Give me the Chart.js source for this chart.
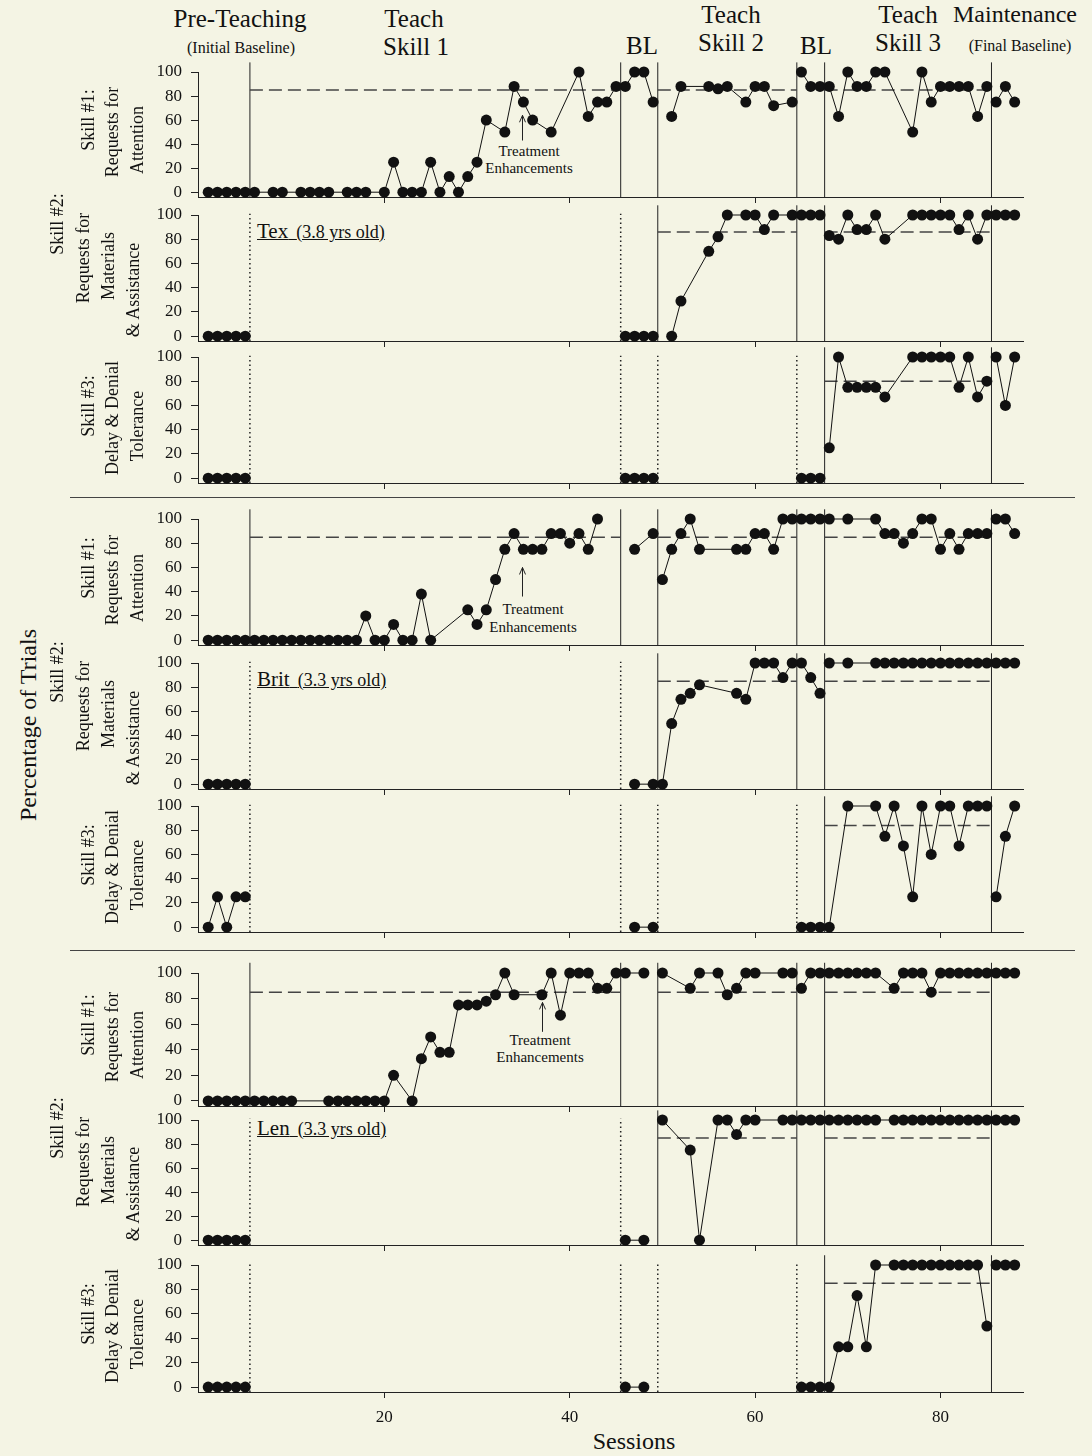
<!DOCTYPE html>
<html lang="en">
<head>
<meta charset="UTF-8">
<title>Percentage of Trials by Session</title>
<script src="https://cdn.jsdelivr.net/npm/chart.js"></script>
<style>
    body { margin: 0; background: #f4f4e4; font-family: 'Liberation Serif', 'Times New Roman', serif; color: #111; }
    #page { position: relative; width: 1092px; height: 1456px; overflow: hidden; }
    canvas { position: absolute; left: 0; }
    .lbl { position: absolute; white-space: nowrap; line-height: 1; }
    .c { transform: translate(-50%, -50%); }
    .rot { transform: translate(-50%, -50%) rotate(-90deg); }
    .sep { position: absolute; height: 0; border-top: 1px solid #444; }
    .hd { font-size: 25px; }
    .sub { font-size: 16px; }
    .tag { text-decoration: underline; }
    .note { font-size: 15px; }
</style>
</head>
<body>
<div id="page">
    <!-- phase headers -->
    <div class="lbl c hd" style="left:240px;top:18px">Pre-Teaching</div>
    <div class="lbl c sub" style="left:241px;top:48px">(Initial Baseline)</div>
    <div class="lbl c hd" style="left:414px;top:18px">Teach</div>
    <div class="lbl c hd" style="left:416px;top:46px">Skill 1</div>
    <div class="lbl c hd" style="left:642px;top:45px">BL</div>
    <div class="lbl c hd" style="left:731px;top:14px">Teach</div>
    <div class="lbl c hd" style="left:731px;top:42px">Skill 2</div>
    <div class="lbl c hd" style="left:816px;top:45px">BL</div>
    <div class="lbl c hd" style="left:908px;top:14px">Teach</div>
    <div class="lbl c hd" style="left:908px;top:42px">Skill 3</div>
    <div class="lbl c" style="left:1015px;top:14px;font-size:24px">Maintenance</div>
    <div class="lbl c sub" style="left:1020px;top:46px">(Final Baseline)</div>

    <div class="lbl rot" style="left:28px;top:725px;font-size:24px">Percentage of Trials</div>
    <div class="lbl c" style="left:634px;top:1441px;font-size:24px">Sessions</div>

    <div class="sep" style="left:70px;width:1005px;top:497px"></div>
    <div class="sep" style="left:70px;width:1005px;top:950px"></div>

    <!-- participant tags -->
    <div class="lbl tag" style="left:257px;top:221px"><span style="font-size:21px">Tex</span>&nbsp; <span style="font-size:18px">(3.8 yrs old)</span></div>
    <div class="lbl tag" style="left:257px;top:669px"><span style="font-size:21px">Brit</span>&nbsp; <span style="font-size:18px">(3.3 yrs old)</span></div>
    <div class="lbl tag" style="left:257px;top:1118px"><span style="font-size:21px">Len</span>&nbsp; <span style="font-size:18px">(3.3 yrs old)</span></div>

    <!-- treatment enhancement notes -->
    <div class="lbl c note" style="left:529px;top:151px">Treatment</div>
    <div class="lbl c note" style="left:529px;top:168px">Enhancements</div>
    <div class="lbl c note" style="left:533px;top:609px">Treatment</div>
    <div class="lbl c note" style="left:533px;top:627px">Enhancements</div>
    <div class="lbl c note" style="left:540px;top:1040px">Treatment</div>
    <div class="lbl c note" style="left:540px;top:1057px">Enhancements</div>
</div>

<script>
    // phase change lines (between sessions) and axis ticks
    const PHASE_CHANGES = [5.5, 45.5, 49.5, 64.5, 67.5, 85.5];
    const TEACH_PHASES = [[5.5, 45.5], [49.5, 64.5], [67.5, 85.5]];
    const X_TICKS = [20, 40, 60, 80];
    const Y_TICKS = [0, 20, 40, 60, 80, 100];

    // Tex
    const texSkill1Sessions = [1,2,3,4,5,6,8,9,11,12,13,14,16,17,18,20,21,22,23,24,25,26,27,28,29,30,31,33,34,35,36,38,41,42,43,44,45,46,47,48,49,51,52,55,56,57,59,60,61,62,64,65,66,67,68,69,70,71,72,73,74,77,78,79,80,81,82,83,84,85,86,87,88];
    const texSkill1Values   = [0,0,0,0,0,0,0,0,0,0,0,0,0,0,0,0,25,0,0,0,25,0,13,0,13,25,60,50,88,75,60,50,100,63,75,75,88,88,100,100,75,63,88,88,86,88,75,88,88,72,75,100,88,88,88,63,100,88,88,100,100,50,100,75,88,88,88,88,63,88,75,88,75];

    const texSkill2Sessions = [1,2,3,4,5,46,47,48,49,51,52,55,56,57,59,60,61,62,64,65,66,67,68,69,70,71,72,73,74,77,78,79,80,81,82,83,84,85,86,87,88];
    const texSkill2Values   = [0,0,0,0,0,0,0,0,0,0,29,70,82,100,100,100,88,100,100,100,100,100,83,80,100,88,88,100,80,100,100,100,100,100,88,100,80,100,100,100,100];

    const texSkill3Sessions = [1,2,3,4,5,46,47,48,49,65,66,67,68,69,70,71,72,73,74,77,78,79,80,81,82,83,84,85,86,87,88];
    const texSkill3Values   = [0,0,0,0,0,0,0,0,0,0,0,0,25,100,75,75,75,75,67,100,100,100,100,100,75,100,67,80,100,60,100];

    // Brit
    const britSkill1Sessions = [1,2,3,4,5,6,7,8,9,10,11,12,13,14,15,16,17,18,19,20,21,22,23,24,25,29,30,31,32,33,34,35,36,37,38,39,40,41,42,43,47,49,50,51,52,53,54,58,59,60,61,62,63,64,65,66,67,68,70,73,74,75,76,77,78,79,80,81,82,83,84,85,86,87,88];
    const britSkill1Values   = [0,0,0,0,0,0,0,0,0,0,0,0,0,0,0,0,0,20,0,0,13,0,0,38,0,25,13,25,50,75,88,75,75,75,88,88,80,88,75,100,75,88,50,75,88,100,75,75,75,88,88,75,100,100,100,100,100,100,100,100,88,88,80,88,100,100,75,88,75,88,88,88,100,100,88];

    const britSkill2Sessions = [1,2,3,4,5,47,49,50,51,52,53,54,58,59,60,61,62,63,64,65,66,67,68,70,73,74,75,76,77,78,79,80,81,82,83,84,85,86,87,88];
    const britSkill2Values   = [0,0,0,0,0,0,0,0,50,70,75,82,75,70,100,100,100,88,100,100,88,75,100,100,100,100,100,100,100,100,100,100,100,100,100,100,100,100,100,100];

    const britSkill3Sessions = [1,2,3,4,5,47,49,65,66,67,68,70,73,74,75,76,77,78,79,80,81,82,83,84,85,86,87,88];
    const britSkill3Values   = [0,25,0,25,25,0,0,0,0,0,0,100,100,75,100,67,25,100,60,100,100,67,100,100,100,25,75,100];

    // Len
    const lenSkill1Sessions = [1,2,3,4,5,6,7,8,9,10,14,15,16,17,18,19,20,21,23,24,25,26,27,28,29,30,31,32,33,34,37,38,39,40,41,42,43,44,45,46,48,50,53,54,56,57,58,59,60,63,64,65,66,67,68,69,70,71,72,73,75,76,77,78,79,80,81,82,83,84,85,86,87,88];
    const lenSkill1Values   = [0,0,0,0,0,0,0,0,0,0,0,0,0,0,0,0,0,20,0,33,50,38,38,75,75,75,78,83,100,83,83,100,67,100,100,100,88,88,100,100,100,100,88,100,100,83,88,100,100,100,100,88,100,100,100,100,100,100,100,100,88,100,100,100,85,100,100,100,100,100,100,100,100,100];

    const lenSkill2Sessions = [1,2,3,4,5,46,48,50,53,54,56,57,58,59,60,63,64,65,66,67,68,69,70,71,72,73,75,76,77,78,79,80,81,82,83,84,85,86,87,88];
    const lenSkill2Values   = [0,0,0,0,0,0,0,100,75,0,100,100,88,100,100,100,100,100,100,100,100,100,100,100,100,100,100,100,100,100,100,100,100,100,100,100,100,100,100,100];

    const lenSkill3Sessions = [1,2,3,4,5,46,48,65,66,67,68,69,70,71,72,73,75,76,77,78,79,80,81,82,83,84,85,86,87,88];
    const lenSkill3Values   = [0,0,0,0,0,0,0,0,0,0,0,33,33,75,33,100,100,100,100,100,100,100,100,100,100,100,50,100,100,100];

    const panels = [
        { sessions: texSkill1Sessions, values: texSkill1Values, skill: 1, criterion: 85, arrow: { x: 34.8, from: 43, to: 64 } },
        { sessions: texSkill2Sessions, values: texSkill2Values, skill: 2, criterion: 86 },
        { sessions: texSkill3Sessions, values: texSkill3Values, skill: 3, criterion: 80 },
        { sessions: britSkill1Sessions, values: britSkill1Values, skill: 1, criterion: 85, arrow: { x: 34.8, from: 36, to: 60 } },
        { sessions: britSkill2Sessions, values: britSkill2Values, skill: 2, criterion: 85 },
        { sessions: britSkill3Sessions, values: britSkill3Values, skill: 3, criterion: 84 },
        { sessions: lenSkill1Sessions, values: lenSkill1Values, skill: 1, criterion: 85, arrow: { x: 37, from: 54, to: 77 } },
        { sessions: lenSkill2Sessions, values: lenSkill2Values, skill: 2, criterion: 85 },
        { sessions: lenSkill3Sessions, values: lenSkill3Values, skill: 3, criterion: 85 }
    ];

    const skillLabels = {
        1: ['Skill #1:', 'Requests for', 'Attention'],
        2: ['Skill #2:', 'Requests for', 'Materials', '& Assistance'],
        3: ['Skill #3:', 'Delay & Denial', 'Tolerance']
    };

    // layout (pixel rows of the value 0 and 100 in each panel)
    const PANEL_Y0   = [192, 336, 478, 640, 784, 927, 1101, 1240, 1387];
    const PANEL_Y100 = [72, 215, 357, 519, 663, 806, 973, 1120, 1265];
    const LABEL_X = { 3: [88, 112, 137], 4: [57, 83, 108, 133] };
    const LABEL_SHIFT = { 3: [-12, 0, 8], 4: [-52, -18, -10, 14] };
    const Y_MIN = -4;
    const PAD_TOP = 16;
    const DOTTED_BEFORE = { 1: 0, 2: 2, 3: 4 };

    Chart.defaults.font.family = "'Liberation Serif', 'Times New Roman', serif";
    Chart.defaults.color = '#111';

    const arrowPlugin = {
        id: 'arrow',
        afterDatasetsDraw(chart, args, opts) {
            if (!opts || opts.x == null) return;
            const { ctx, scales: { x, y } } = chart;
            const px = Math.round(x.getPixelForValue(opts.x)) + 0.5;
            const y1 = y.getPixelForValue(opts.from);
            const y2 = y.getPixelForValue(opts.to);
            ctx.save();
            ctx.strokeStyle = '#222';
            ctx.lineWidth = 1;
            ctx.beginPath();
            ctx.moveTo(px, y1);
            ctx.lineTo(px, y2);
            ctx.moveTo(px - 3, y2 + 7);
            ctx.lineTo(px, y2);
            ctx.lineTo(px + 3, y2 + 7);
            ctx.stroke();
            ctx.restore();
        }
    };

    function phaseSegments(sessions, values) {
        const segs = [];
        sessions.forEach((s, i) => {
            const p = PHASE_CHANGES.filter(b => s > b).length;
            (segs[p] = segs[p] || []).push({ x: s, y: values[i] });
        });
        return segs.filter(Boolean);
    }

    const page = document.getElementById('page');

    panels.forEach((p, i) => {
        const isLast = i === panels.length - 1;
        const unit = (PANEL_Y0[i] - PANEL_Y100[i]) / 100;
        const areaH = (100 - Y_MIN) * unit;
        const xAxisH = isLast ? 40 : 12;
        const h = Math.round(PAD_TOP + areaH + xAxisH);

        const canvas = document.createElement('canvas');
        canvas.width = 1092;
        canvas.height = h;
        canvas.style.top = (PANEL_Y100[i] - PAD_TOP) + 'px';
        page.appendChild(canvas);

        // rotated skill label lines
        const lines = skillLabels[p.skill];
        const mid = (PANEL_Y0[i] + PANEL_Y100[i]) / 2;
        lines.forEach((t, k) => {
            const d = document.createElement('div');
            d.className = 'lbl rot';
            d.style.fontSize = '18px';
            d.style.left = LABEL_X[lines.length][k] + 'px';
            d.style.top = (mid + LABEL_SHIFT[lines.length][k]) + 'px';
            d.textContent = t;
            page.appendChild(d);
        });

        const datasets = [];
        phaseSegments(p.sessions, p.values).forEach(seg => {
            datasets.push({
                data: seg,
                borderColor: '#111',
                borderWidth: 1,
                pointRadius: 5.5,
                pointBackgroundColor: '#111',
                pointBorderWidth: 0,
                clip: false,
                order: 0
            });
        });

        PHASE_CHANGES.forEach((b, k) => {
            const dotted = k < DOTTED_BEFORE[p.skill];
            datasets.push({
                data: [{ x: b, y: Y_MIN }, { x: b, y: dotted ? 101 : 108 }],
                borderColor: '#222',
                borderWidth: dotted ? 1.5 : 1,
                borderDash: dotted ? [1.5, 3] : [],
                pointRadius: 0,
                clip: false,
                order: 2
            });
        });

        TEACH_PHASES.slice(p.skill - 1).forEach(([a, b]) => {
            datasets.push({
                data: [{ x: a, y: p.criterion }, { x: b, y: p.criterion }],
                borderColor: '#444',
                borderWidth: 1.5,
                borderDash: [13, 6],
                pointRadius: 0,
                clip: false,
                order: 1
            });
        });

        new Chart(canvas.getContext('2d'), {
            type: 'line',
            data: { datasets },
            plugins: p.arrow ? [arrowPlugin] : [],
            options: {
                responsive: false,
                animation: false,
                parsing: false,
                layout: { padding: { left: 150, right: 69, top: PAD_TOP, bottom: 0 } },
                elements: { line: { tension: 0 } },
                plugins: {
                    legend: { display: false },
                    tooltip: { enabled: false },
                    arrow: p.arrow || {}
                },
                scales: {
                    x: {
                        type: 'linear',
                        min: -0.1,
                        max: 88.9,
                        afterBuildTicks: s => { s.ticks = X_TICKS.map(v => ({ value: v })); },
                        afterFit: s => { s.height = xAxisH; s.paddingLeft = 0; s.paddingRight = 0; },
                        border: { display: true, color: '#222', width: 1 },
                        grid: { display: true, drawOnChartArea: false, drawTicks: true, tickLength: 6, color: '#222' },
                        ticks: { display: isLast, font: { size: 17 }, color: '#111', padding: 9, maxRotation: 0 }
                    },
                    y: {
                        min: Y_MIN,
                        max: 100,
                        afterBuildTicks: s => { s.ticks = Y_TICKS.map(v => ({ value: v })); },
                        afterFit: s => { s.width = 48; s.paddingTop = 0; s.paddingBottom = 0; },
                        border: { display: true, color: '#222', width: 1 },
                        grid: { display: true, drawOnChartArea: false, drawTicks: true, tickLength: 7, color: '#222' },
                        ticks: { font: { size: 17 }, color: '#111', padding: 9 }
                    }
                }
            }
        });
    });
</script>
</body>
</html>
